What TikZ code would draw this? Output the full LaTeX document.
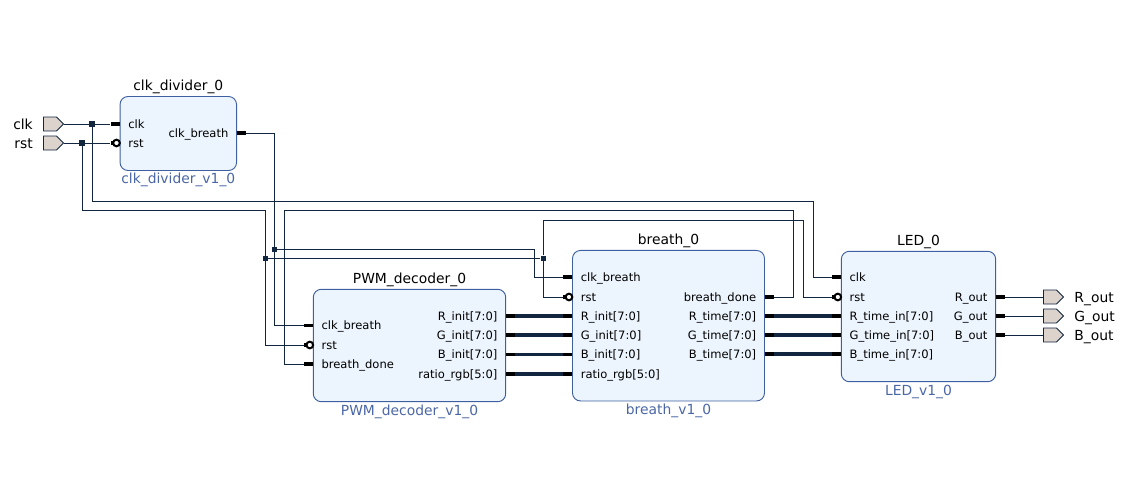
\documentclass[tikz,border=0pt]{standalone}
\usepackage{fontspec}
\setmainfont{DejaVu Sans}
\usetikzlibrary{positioning, shapes.symbols}
\definecolor{wirecol}{HTML}{12263F}
\definecolor{boxfill}{HTML}{ECF4FD}
\definecolor{boxline}{HTML}{3F60A0}
\definecolor{subcol}{HTML}{4A66A5}
\definecolor{pinfill}{HTML}{DCD3CD}
\tikzset{
	block/.style={draw=boxline, fill=boxfill, line width=.7pt, rounded corners=6pt, inner sep=0pt},
	stub/.style={fill=black, inner sep=0pt, minimum width=6.75pt, minimum height=2.9pt},
	bubble/.style={circle, draw=black, fill=white, line width=1.5pt, inner sep=0pt, minimum size=5pt},
	dot/.style={fill=wirecol, inner sep=0pt, minimum size=3.9pt},
	wire/.style={draw=wirecol, line width=.75pt},
	bus/.style={draw=wirecol, line width=2.3pt},
	pin/.style={signal, signal to=east, draw=wirecol, fill=pinfill, line width=.7pt, inner sep=0pt, minimum width=15pt, minimum height=10.5pt},
	intext/.style={anchor=west, xshift=6pt, inner sep=0pt, font=\fontsize{8.65}{10}\selectfont, text height=8pt, text depth=2pt},
	outtext/.style={anchor=east, xshift=-6pt, inner sep=0pt, font=\fontsize{8.65}{10}\selectfont, text height=8pt, text depth=2pt},
	title/.style={inner sep=0pt, font=\fontsize{10.4}{12}\selectfont, text height=7.5pt, text depth=2pt},
	subtitle/.style={title, text=subcol},
	pinlabel/.style={inner sep=0pt, font=\fontsize{10.4}{12}\selectfont, text height=9.6pt, text depth=2pt},
}
\begin{document}
\begin{tikzpicture}[x=.75pt, y=-.75pt]
	\useasboundingbox (0,0) rectangle (1127,503);
	% blocks
	\node[block, minimum width=87.4pt, minimum height=55.5pt] (divider) at (178.3,133.5) {};
	\node[block, minimum width=144.3pt, minimum height=84.3pt] (pwm) at (409.5,345.5) {};
	\node[block, minimum width=144pt, minimum height=112.9pt] (breath) at (668.5,325.7) {};
	\node[block, minimum width=115.8pt, minimum height=97.8pt] (led) at (918.5,316.5) {};
	\node[title, above=1.8pt of divider] (divider_title) {clk\_divider\_0};
	\node[title, above=1.8pt of pwm] (pwm_title) {PWM\_decoder\_0};
	\node[title, above=1.8pt of breath] (breath_title) {breath\_0};
	\node[title, above=1.8pt of led] (led_title) {LED\_0};
	\node[subtitle, below=2pt of divider] (divider_sub) {clk\_divider\_v1\_0};
	\node[subtitle, below=2pt of pwm] (pwm_sub) {PWM\_decoder\_v1\_0};
	\node[subtitle, below=2pt of breath] (breath_sub) {breath\_v1\_0};
	\node[subtitle, below=2pt of led] (led_sub) {LED\_v1\_0};
	% external pins
	\node[pin] (clk_pin) at (50,124) {};
	\node[pin] (rst_pin) at (50,143) {};
	\node[pin] (rout_pin) at (1050,297) {};
	\node[pin] (gout_pin) at (1050,316) {};
	\node[pin] (bout_pin) at (1050,335) {};
	\node[pinlabel, left=7.5pt of clk_pin] (clk_label) {clk};
	\node[pinlabel, left=7.5pt of rst_pin] (rst_label) {rst};
	\node[pinlabel, right=7.5pt of rout_pin] (rout_label) {R\_out};
	\node[pinlabel, right=7.5pt of gout_pin] (gout_label) {G\_out};
	\node[pinlabel, right=7.5pt of bout_pin] (bout_label) {B\_out};
	% clk_divider ports
	\node[stub, anchor=east] (div_clk) at (120,124) {};
	\node[stub, anchor=east] (div_rst) at (120,143) {};
	\node[bubble] (div_rst_b) at (116.5,143) {};
	\node[stub, anchor=west] (div_out) at (236.6,133) {};
	\node[intext] (div_clk_t) at (div_clk.east) {clk};
	\node[intext] (div_rst_t) at (div_rst.east) {rst};
	\node[outtext] (div_out_t) at (div_out.west) {clk\_breath};
	% PWM_decoder ports
	\node[stub, anchor=east] (pwm_clk) at (313.3,325.5) {};
	\node[stub, anchor=east] (pwm_rst) at (313.3,345) {};
	\node[bubble] (pwm_rst_b) at (309.8,345) {};
	\node[stub, anchor=east] (pwm_done) at (313.3,364) {};
	\node[intext] (pwm_clk_t) at (pwm_clk.east) {clk\_breath};
	\node[intext] (pwm_rst_t) at (pwm_rst.east) {rst};
	\node[intext] (pwm_done_t) at (pwm_done.east) {breath\_done};
	\node[stub, anchor=west] (pwm_r) at (505.7,316) {};
	\node[stub, anchor=west] (pwm_g) at (505.7,335) {};
	\node[stub, anchor=west] (pwm_b) at (505.7,354.5) {};
	\node[stub, anchor=west] (pwm_ratio) at (505.7,374) {};
	\node[outtext] (pwm_r_t) at (pwm_r.west) {R\_init[7:0]};
	\node[outtext] (pwm_g_t) at (pwm_g.west) {G\_init[7:0]};
	\node[outtext] (pwm_b_t) at (pwm_b.west) {B\_init[7:0]};
	\node[outtext] (pwm_ratio_t) at (pwm_ratio.west) {ratio\_rgb[5:0]};
	% breath ports
	\node[stub, anchor=east] (br_clk) at (572.5,277) {};
	\node[stub, anchor=east] (br_rst) at (572.5,297) {};
	\node[bubble] (br_rst_b) at (569,297) {};
	\node[stub, anchor=east] (br_r) at (572.5,316) {};
	\node[stub, anchor=east] (br_g) at (572.5,335) {};
	\node[stub, anchor=east] (br_b) at (572.5,354.5) {};
	\node[stub, anchor=east] (br_ratio) at (572.5,374) {};
	\node[intext] (br_clk_t) at (br_clk.east) {clk\_breath};
	\node[intext] (br_rst_t) at (br_rst.east) {rst};
	\node[intext] (br_r_t) at (br_r.east) {R\_init[7:0]};
	\node[intext] (br_g_t) at (br_g.east) {G\_init[7:0]};
	\node[intext] (br_b_t) at (br_b.east) {B\_init[7:0]};
	\node[intext] (br_ratio_t) at (br_ratio.east) {ratio\_rgb[5:0]};
	\node[stub, anchor=west] (br_done) at (764.5,297) {};
	\node[stub, anchor=west] (br_rtime) at (764.5,316) {};
	\node[stub, anchor=west] (br_gtime) at (764.5,335) {};
	\node[stub, anchor=west] (br_btime) at (764.5,354) {};
	\node[outtext] (br_done_t) at (br_done.west) {breath\_done};
	\node[outtext] (br_rtime_t) at (br_rtime.west) {R\_time[7:0]};
	\node[outtext] (br_gtime_t) at (br_gtime.west) {G\_time[7:0]};
	\node[outtext] (br_btime_t) at (br_btime.west) {B\_time[7:0]};
	% LED ports
	\node[stub, anchor=east] (led_clk) at (841.3,277) {};
	\node[stub, anchor=east] (led_rst) at (841.3,297) {};
	\node[bubble] (led_rst_b) at (837.8,297) {};
	\node[stub, anchor=east] (led_r) at (841.3,316) {};
	\node[stub, anchor=east] (led_g) at (841.3,335) {};
	\node[stub, anchor=east] (led_b) at (841.3,354) {};
	\node[intext] (led_clk_t) at (led_clk.east) {clk};
	\node[intext] (led_rst_t) at (led_rst.east) {rst};
	\node[intext] (led_r_t) at (led_r.east) {R\_time\_in[7:0]};
	\node[intext] (led_g_t) at (led_g.east) {G\_time\_in[7:0]};
	\node[intext] (led_b_t) at (led_b.east) {B\_time\_in[7:0]};
	\node[stub, anchor=west] (led_rout) at (995.7,297) {};
	\node[stub, anchor=west] (led_gout) at (995.7,316) {};
	\node[stub, anchor=west] (led_bout) at (995.7,335) {};
	\node[outtext] (led_rout_t) at (led_rout.west) {R\_out};
	\node[outtext] (led_gout_t) at (led_gout.west) {G\_out};
	\node[outtext] (led_bout_t) at (led_bout.west) {B\_out};
	% junctions
	\node[dot] (clk_dot) at (92,124) {};
	\node[dot] (rst_dot) at (82,143) {};
	\node[dot] (breath_dot) at (274.3,249.3) {};
	\node[dot] (rst_dot2) at (265.3,258.3) {};
	\node[dot] (rst_dot3) at (543.3,258.3) {};
	\coordinate (clk_aux) at (813.3,201.7);
	\coordinate (rst_aux) at (265.3,210.3);
	\coordinate (rst_aux2) at (803.3,220.3);
	\coordinate (done_aux) at (793.3,210.7);
	\coordinate (done_aux2) at (284.3,210.7);
	\coordinate (breath_aux) at (534.7,249.3);
	\coordinate (out_aux) at (274.3,133);
	% wires
	\draw[wire] (clk_pin.east) -- (div_clk.west);
	\draw[wire] (rst_pin.east) -- (div_rst.west);
	\draw[wire] (clk_dot) |- (clk_aux) |- (led_clk.west);
	\draw[wire] (rst_dot) |- (rst_aux) |- (pwm_rst.west);
	\draw[wire] (rst_dot2) -- (rst_dot3);
	\draw[wire] (rst_dot3) |- (rst_aux2) |- (led_rst.west);
	\draw[wire] (rst_dot3) |- (br_rst.west);
	\draw[wire] (div_out.east) -- (out_aux) |- (pwm_clk.west);
	\draw[wire] (breath_dot) -- (breath_aux) |- (br_clk.west);
	\draw[wire] (br_done.east) -| (done_aux) -- (done_aux2) |- (pwm_done.west);
	\draw[wire] (led_rout.east) -- (rout_pin.west);
	\draw[wire] (led_gout.east) -- (gout_pin.west);
	\draw[wire] (led_bout.east) -- (bout_pin.west);
	% buses
	\draw[bus] (pwm_r.east) -- (br_r.west);
	\draw[bus] (pwm_g.east) -- (br_g.west);
	\draw[bus] (pwm_b.east) -- (br_b.west);
	\draw[bus] (pwm_ratio.east) -- (br_ratio.west);
	\draw[bus] (br_rtime.east) -- (led_r.west);
	\draw[bus] (br_gtime.east) -- (led_g.west);
	\draw[bus] (br_btime.east) -- (led_b.west);
\end{tikzpicture}
\end{document}
